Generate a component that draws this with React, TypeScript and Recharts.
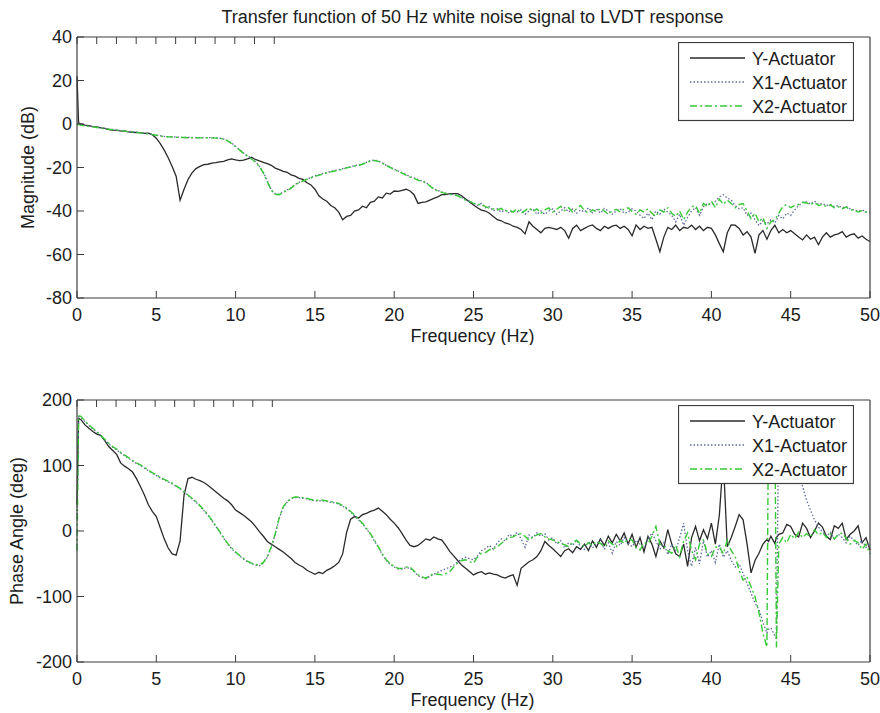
import React from 'react';
import { LineChart, Line, XAxis, YAxis } from 'recharts';

const FONT = '"Liberation Sans", Arial, Helvetica, sans-serif';
const TEXT = '#1c1c1c';
const FRAME = '#3c3c3c';

const TITLE = 'Transfer function of 50 Hz white noise signal to LVDT response';
const FREQ_TICKS = [0, 5, 10, 15, 20, 25, 30, 35, 40, 45, 50];
const MAG_TICKS = [-80, -60, -40, -20, 0, 20, 40];
const PHASE_TICKS = [-200, -100, 0, 100, 200];

// frequency grid (Hz): 0, 0.1, then every 0.25 Hz
const FREQ: number[] = [0, 0.1, ...Array.from({ length: 200 }, (_, i) => (i + 1) * 0.25)];
// phase grid has two extra samples around the 43-44 Hz wrap
const PHASE_EXTRA_FREQ = [43.6, 44.1];
const FREQ_PHASE: number[] = [...FREQ, ...PHASE_EXTRA_FREQ].sort((a, b) => a - b);

// ---------- Magnitude (dB) ----------
const MAG_Y = [
  22, 0.5,
  0, -0.5, -0.8, -1.2,
  -1.3, -1.8, -2.0, -2.6,
  -2.8, -2.9, -3.2, -3.3,
  -3.6, -3.8, -3.9, -4.0,
  -4.3, -4.2, -4.9, -6.5,
  -9, -12, -15.5, -19.5,
  -24, -35, -30, -25.5,
  -22.5, -20.5, -19.5, -18.7,
  -18.5, -18, -17.8, -17.4,
  -17.2, -16.5, -16.0, -16.5,
  -16.8, -16.6, -16.0, -15.3,
  -16.3, -17.0, -17.6, -18.2,
  -19, -20.3, -21, -21.8,
  -22.2, -23.4, -24, -25,
  -25.5, -27, -28, -30,
  -33, -34.5, -35.5, -37.5,
  -38.5, -40.5, -44, -42.5,
  -42, -40, -39.5, -37.8,
  -38.5, -36, -35.5, -33.5,
  -34, -31.8, -32.2, -30.8,
  -31, -30.5, -30, -30.8,
  -32.5, -36.5, -36, -35.8,
  -35, -34.2, -33.5, -32.5,
  -32.5, -32, -32, -32,
  -33, -34.5, -35.8, -37.2,
  -38.5, -39.6, -40, -41,
  -42.5, -44, -44.5, -45.5,
  -46, -47, -47.5, -48.5,
  -50.5, -45, -47, -48.5,
  -50, -48, -47.5, -48,
  -48.5, -47.5, -49, -52.5,
  -48, -46.5, -49, -48,
  -47, -46.4, -48, -49,
  -47, -48, -47, -46.5,
  -48, -47, -48.5, -51.4,
  -46.4, -48.5, -47, -48,
  -47.5, -53, -58.7, -52,
  -47.5, -48.5, -46.5, -49,
  -47.5, -48, -46.5, -48.5,
  -47, -49, -47.5, -48,
  -51, -55, -58.7, -50,
  -46.4, -46.5, -48, -51,
  -49.5, -52, -59.5, -51,
  -49, -53, -49, -46.5,
  -50, -48.5, -50, -49,
  -50.5, -52, -53.3, -51,
  -53, -52, -55.5, -52,
  -50, -52, -51, -50.5,
  -49.5, -52, -51, -50.5,
  -52.5, -51.5, -53, -54,
];

const MAG_X1 = [
  0, -0.2,
  -0.4, -0.7, -1.0, -1.2,
  -1.5, -1.8, -2.0, -2.3,
  -2.5, -2.8, -3.0, -3.2,
  -3.4, -3.6, -3.8, -4.0,
  -4.2, -4.5, -4.8, -5.1,
  -5.4, -5.7, -5.8, -5.9,
  -6.0, -6.1, -6.2, -6.2,
  -6.2, -6.3, -6.3, -6.3,
  -6.2, -6.3, -6.4, -6.5,
  -6.9, -7.6, -8.8, -10.3,
  -11.8, -13.3, -14.6, -15.8,
  -17.3, -19.4, -22.2, -26.2,
  -30.2, -32.1, -32.3, -31.3,
  -30.3, -29.3, -27.8, -26.8,
  -26, -25.3, -24.6, -23.8,
  -23.4, -22.8, -22.3, -21.8,
  -21.4, -21.1, -20.5, -20,
  -19.6, -19.1, -18.8, -18.3,
  -17.6, -16.8, -16.6, -17,
  -17.8, -19, -19.8, -20.8,
  -21.6, -22.4, -23.3, -24.2,
  -24.8, -25.6, -26.2, -26.8,
  -28.3, -29.8, -30.6, -31.2,
  -31.8, -32.1, -32.4, -32.8,
  -33.8, -34.8, -35.5, -36.3,
  -37.5, -36.5, -38.5, -38,
  -40, -39, -40.5, -39.5,
  -41, -39.8, -40.5, -39.5,
  -41.5, -40, -39, -41.5,
  -40, -41.5, -40, -39,
  -41.5, -40, -38.5, -40.5,
  -39, -41, -39.5, -40.5,
  -38.5, -40.8, -39, -41,
  -38.8, -40, -41.5, -40,
  -39, -41, -40.5, -39,
  -40, -42, -43.5, -41,
  -44, -40, -41.5, -39,
  -40.5, -42, -45, -41.5,
  -46.5, -43, -40, -38.5,
  -42, -38, -36.5, -37,
  -35.5, -33.5, -32.5, -34,
  -35, -37.5, -39, -38.5,
  -42, -41, -44, -46.7,
  -44.5, -46, -44, -45.5,
  -42, -43.6, -41, -42,
  -39.5, -37.5, -36, -35.8,
  -36.8, -35.5, -37, -36.5,
  -37.5, -37, -38, -37.5,
  -38.5, -38, -39, -39.5,
  -40, -39.5, -40.5, -40.5,
];

const MAG_X2 = [
  0, -0.3,
  -0.5, -0.8, -1.0, -1.3,
  -1.6, -1.9, -2.1, -2.4,
  -2.6, -2.8, -3.1, -3.3,
  -3.5, -3.7, -3.9, -4.1,
  -4.3, -4.6, -4.9, -5.2,
  -5.5, -5.8, -5.9, -6.0,
  -6.1, -6.2, -6.2, -6.3,
  -6.3, -6.3, -6.4, -6.4,
  -6.3, -6.4, -6.5, -6.6,
  -7.0, -7.8, -9, -10.5,
  -12, -13.5, -14.8, -16,
  -17.5, -19.6, -22.5, -26.5,
  -30.5, -32.3, -32.5, -31.5,
  -30.5, -29.5, -28, -27,
  -26.2, -25.5, -24.8, -24,
  -23.6, -23, -22.5, -22,
  -21.6, -21.3, -20.7, -20.2,
  -19.8, -19.3, -19, -18.5,
  -17.8, -17, -16.8, -17.2,
  -18, -19.2, -20, -21,
  -21.8, -22.6, -23.5, -24.4,
  -25, -25.8, -26.4, -27,
  -28.5, -30, -30.8, -31.4,
  -32, -32.3, -32.6, -33,
  -34, -35, -35.6, -36.5,
  -37, -37, -38, -38.7,
  -39, -39.5, -38.8, -40.2,
  -39.5, -40.5, -39, -41,
  -39.8, -38.5, -40.2, -39,
  -41, -39.5, -38.6, -40.5,
  -39.2, -37.8, -39.8, -38.5,
  -40.5, -39, -37.5, -39.8,
  -41, -39.5, -40.3, -38.8,
  -40, -41.5, -40, -39.2,
  -40.5, -39, -38.5, -40.2,
  -41.5, -39.5, -40.5, -39,
  -41, -42.5, -39.5, -40.5,
  -38.5, -41, -42.5, -40,
  -44, -40.5, -38, -37.5,
  -41, -36.5, -38, -35.5,
  -38.5, -34.5, -37, -35,
  -36.5, -38.5, -37, -36.6,
  -40, -43.5, -41, -45,
  -43, -48, -45, -44,
  -41, -38, -37, -38.5,
  -37.5, -37, -36, -36.3,
  -37, -36, -37.5, -37,
  -38, -37.2, -38.5, -38,
  -39, -38.2, -39.5, -39.6,
  -40.5, -39.8, -40.5, -41,
];

// ---------- Phase angle (deg) ----------
const PH_Y = [
  40, 172,
  170, 162, 157, 152,
  148, 146, 138, 129,
  123, 117, 104, 99,
  95, 90, 80, 68,
  55, 40, 30, 22,
  5, -12, -26, -35,
  -37, -15, 55, 80,
  82, 79, 77, 74,
  70, 65, 60, 55,
  50, 46, 40, 32,
  28, 24, 19, 14,
  7, -1, -8, -16,
  -20, -24, -28, -32,
  -37, -42, -48, -52,
  -55, -60, -63, -66,
  -63, -65, -60, -57,
  -53, -48, -35, -2,
  18, 22, 20, 25,
  27, 30, 32, 35,
  30, 25, 18, 12,
  5, -4, -14, -22,
  -24, -22, -17, -12,
  -14, -9, -12, -14,
  -22, -31, -38, -45,
  -52, -57, -62, -67,
  -64, -62, -66, -64,
  -66, -67, -70, -72,
  -69, -67, -83, -57,
  -52, -47, -44, -39,
  -30, -16, -22, -27,
  -33, -39, -30, -27,
  -33, -24, -28, -20,
  -30, -15, -25, -12,
  -22, -8, -18, -5,
  -15, -3, -20, -5,
  -25, -10, -32, -8,
  -20, -39, -15, -26,
  2, -20, -35, -39,
  -20, -54, -10, 7,
  -15, 2, -12, 12,
  -20, 24, 110, -24,
  -10, 7, 25, 17,
  -20, -64, -45, -34,
  -20, -13, -16, -8, -19, -10,
  -5, -3, 10, 7,
  -5, -9, 12, 4,
  -10, 0, 12, 6,
  -8, -13, 8, 4,
  12, -13, -5, 0,
  8, -18, -10, -29,
];

const PH_X1 = [
  20, 175,
  174, 167, 161, 156,
  151, 145, 139, 133,
  128, 124, 119, 115,
  111, 107, 103, 100,
  96, 92, 88, 85,
  81, 78, 75, 72,
  68, 64, 59, 54,
  49, 44, 38, 31,
  24, 16, 7, -2,
  -11, -20, -27, -33,
  -38, -43, -47, -50,
  -52, -53, -49, -40,
  -25, -5, 19, 36,
  44, 49, 51, 51,
  50, 49, 47, 46,
  46, 46, 45, 44,
  43, 41, 38, 34,
  29, 23, 17, 11,
  3, -5, -15, -25,
  -36, -45, -51, -55,
  -58, -58, -56, -57,
  -62, -68, -71, -73,
  -69, -66, -63, -60,
  -58, -55, -52, -47,
  -43, -40, -42, -44,
  -38, -30, -27, -22,
  -28, -18, -12, -15,
  -5, -8, -2, -12,
  -25, -6, -10, -3,
  -8, -4, -14, -10,
  -20, -15, -26, -18,
  -22, -14, -24, -28,
  -16, -26, -20, -14,
  -28, -18, -34, -16,
  -22, -10, -18, -24,
  -14, -20, -26, -12,
  -3, -15, -28, -18,
  -36, -20, -30, -10,
  12, -30, -54, -25,
  -50, -15, -40, -30,
  -48, -20, -40, -30,
  -45, -55, -50, -65,
  -80, -95, -110, -120,
  -140, -156, -150, -148, -160, -165,
  178, 150, 130, 115,
  100, 88, 68, 47,
  32, 17, 6, -1,
  -8, -2, -12, -5,
  -10, -18, -8, -15,
  -22, -14, -25, -20,
];

const PH_X2 = [
  -30, 176,
  175, 168, 162, 157,
  152, 146, 140, 134,
  129, 125, 120, 116,
  112, 108, 104, 101,
  97, 93, 89, 86,
  82, 79, 76, 73,
  69, 65, 60, 55,
  50, 45, 39, 32,
  25, 17, 8, -1,
  -10, -19, -26, -32,
  -37, -42, -46, -49,
  -51, -52, -48, -39,
  -24, -4, 20, 37,
  45, 50, 52, 52,
  51, 50, 48, 47,
  47, 47, 46, 45,
  44, 42, 39, 35,
  30, 24, 18, 12,
  4, -4, -14, -24,
  -35, -44, -50, -54,
  -57, -57, -55, -55,
  -61, -67, -70, -72,
  -68, -65, -66, -67,
  -65, -62, -55, -49,
  -45, -44, -47, -49,
  -40, -34, -33, -29,
  -27, -24, -19, -14,
  -10, -9, -5, -4,
  -8, -14, -9, -6,
  -4, -9, -12, -14,
  -16, -19, -21, -24,
  -18, -14, -20, -24,
  -18, -22, -16, -19,
  -24, -15, -20, -24,
  -14, -19, -12, -14,
  -25, -29, -18, -19,
  -8, 7, -20, -24,
  -30, -34, -22, -39,
  -15, -3, -30, -44,
  -20, -14, -35, -39,
  -25, -24, -35, -14,
  -30, -39, -60, -75,
  -70, -85, -100, -125,
  -156, -177, 178, 176, 178, -178,
  -20, -10, -18, -5,
  -12, -2, -10, -4,
  -9, 2, -6, -2,
  -10, -4, -12, -6,
  -3, -11, -20, -14,
  -18, -28, -20, -35,
];

const SERIES = [
  { key: 'y', name: 'Y-Actuator', color: '#2a2a2a', dash: undefined as string | undefined, width: 1.3 },
  { key: 'x1', name: 'X1-Actuator', color: '#5e6a9a', dash: '1.5 2', width: 1.3 },
  { key: 'x2', name: 'X2-Actuator', color: '#36c936', dash: '7 3 2 3', width: 1.4 },
];

const MAG_ROWS = FREQ.map((f, i) => ({ f, y: MAG_Y[i], x1: MAG_X1[i], x2: MAG_X2[i] }));
const PHASE_ROWS = FREQ_PHASE.map((f, i) => ({ f, y: PH_Y[i], x1: PH_X1[i], x2: PH_X2[i] }));

const txt = { fontFamily: FONT, fontSize: 18, fill: TEXT } as const;

const BottomTick = (props: any) => {
  const { x, y, payload } = props;
  return (
    <g>
      <line x1={x} x2={x} y1={y} y2={y - 7} stroke={FRAME} />
      <text x={x} y={y + 23} textAnchor="middle" {...txt}>{payload.value}</text>
    </g>
  );
};
const TopTick = (props: any) => {
  const { x, y } = props;
  return <line x1={x} x2={x} y1={y} y2={y + 7} stroke={FRAME} />;
};
const LeftTick = (props: any) => {
  const { x, y, payload } = props;
  return (
    <g>
      <line x1={x} x2={x + 7} y1={y} y2={y} stroke={FRAME} />
      <text x={x - 5} y={y + 6} textAnchor="end" {...txt}>{payload.value}</text>
    </g>
  );
};
const RightTick = (props: any) => {
  const { x, y } = props;
  return <line x1={x} x2={x - 7} y1={y} y2={y} stroke={FRAME} />;
};

const makeYLabel = (text: string, baselineX: number) => (props: any) => {
  const vb = props.viewBox || { y: 0, height: 0 };
  const cy = vb.y + vb.height / 2;
  return (
    <text transform={`translate(${baselineX},${cy}) rotate(-90)`} textAnchor="middle" {...txt}>{text}</text>
  );
};
const xLabel = (props: any) => {
  const vb = props.viewBox || { x: 0, y: 0, width: 0 };
  return <text x={vb.x + vb.width / 2 - 1} y={vb.y + 44} textAnchor="middle" {...txt}>Frequency (Hz)</text>;
};
const titleLabel = (props: any) => {
  const vb = props.viewBox || { x: 0, y: 0, width: 0 };
  return <text x={vb.x + vb.width / 2 - 1} y={vb.y - 13} textAnchor="middle" {...txt}>{TITLE}</text>;
};

const LegendBox = ({ top }: { top: number }) => (
  <div style={{ position: 'absolute', left: 678, top, width: 176, height: 80, zIndex: 20 }}>
    <svg width={176} height={80} style={{ display: 'block' }}>
      <rect x={0.5} y={0.5} width={175} height={78} fill="#fff" stroke={FRAME} strokeWidth={1.2} />
      {SERIES.map((s, i) => {
        const cy = 16 + i * 24;
        return (
          <g key={s.key}>
            <line x1={12} x2={67} y1={cy} y2={cy} stroke={s.color} strokeDasharray={s.dash} strokeWidth={s.width} />
            <text x={74} y={cy + 6.5} {...txt}>{s.name}</text>
          </g>
        );
      })}
    </svg>
  </div>
);

const Panel = ({ data, yDomain, yTicks, yLabel, yLabelX, title }: any) => (
  <LineChart width={880} height={title ? 345 : 350} data={data} margin={{ top: 36, right: 9, bottom: title ? 3 : 7, left: 0 }}>
    <XAxis dataKey="f" type="number" domain={[0, 50]} ticks={FREQ_TICKS} interval={0} height={44}
      tickSize={0} tickMargin={0} tickLine={false} axisLine={{ stroke: FRAME, strokeWidth: 1.2 }}
      tick={BottomTick} label={xLabel} />
    <XAxis xAxisId="top" orientation="top" type="number" domain={[0, 50]} ticks={FREQ_TICKS} interval={0} height={1}
      tickSize={0} tickMargin={0} tickLine={false} axisLine={{ stroke: FRAME, strokeWidth: 1.2 }}
      tick={TopTick} label={title ? titleLabel : undefined} />
    <YAxis type="number" domain={yDomain} ticks={yTicks} interval={0} width={77}
      tickSize={0} tickMargin={0} tickLine={false} axisLine={{ stroke: FRAME, strokeWidth: 1.2 }}
      tick={LeftTick} label={makeYLabel(yLabel, yLabelX)} />
    <YAxis yAxisId="right" orientation="right" type="number" domain={yDomain} ticks={yTicks} interval={0} width={1}
      tickSize={0} tickMargin={0} tickLine={false} axisLine={{ stroke: FRAME, strokeWidth: 1.2 }}
      tick={RightTick} />
    {SERIES.map((s) => (
      <Line key={s.key} dataKey={s.key} name={s.name} type="linear" stroke={s.color}
        strokeDasharray={s.dash} strokeWidth={s.width} dot={false} activeDot={false}
        isAnimationActive={false} />
    ))}
  </LineChart>
);

export default function App() {
  return (
    <div style={{ position: 'absolute', left: 0, top: 0, width: 880, height: 713, background: '#fff', fontFamily: FONT, overflow: 'hidden' }}>
      <div style={{ position: 'absolute', left: 0, top: 0, zIndex: 1 }}>
        <Panel data={MAG_ROWS} yDomain={[-80, 40]} yTicks={MAG_TICKS} yLabel="Magnitude (dB)" yLabelX={34} title />
      </div>
      <div style={{ position: 'absolute', left: 0, top: 363, zIndex: 1 }}>
        <Panel data={PHASE_ROWS} yDomain={[-200, 200]} yTicks={PHASE_TICKS} yLabel="Phase Angle (deg)" yLabelX={23} />
      </div>
      <LegendBox top={42} />
      <LegendBox top={405} />
    </div>
  );
}
